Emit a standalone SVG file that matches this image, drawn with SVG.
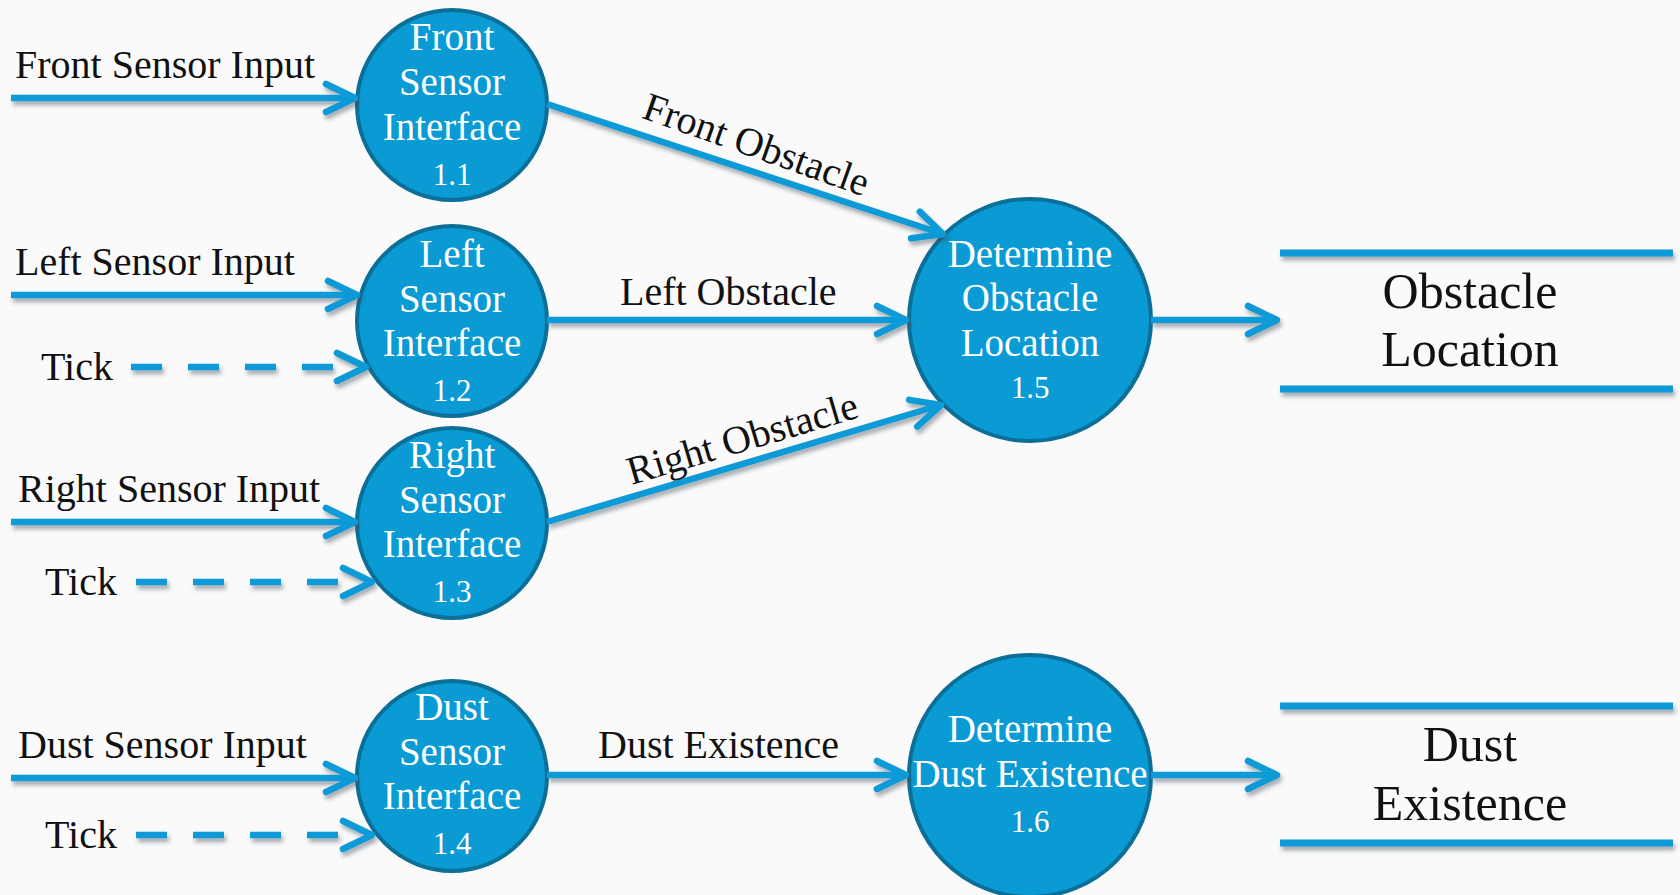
<svg xmlns="http://www.w3.org/2000/svg" width="1680" height="895" viewBox="0 0 1680 895">
  <style>
    .bg { fill: #fafafa; }
    .proc { fill: #0a9ad4; stroke: #0b6f98; stroke-width: 4; }
    .flow { fill: none; stroke: #0b9ad6; stroke-width: 6.5; stroke-linecap: butt; }
    .dash { stroke-dasharray: 31 26; }
    .store { fill: none; stroke: #0b9ad6; stroke-width: 7; }
    .lbl { font-family: "Liberation Serif", "Times New Roman", serif; font-size: 40px; fill: #111; }
    .pt { font-family: "Liberation Serif", "Times New Roman", serif; font-size: 39px; fill: #fff; text-anchor: middle; }
    .num { font-size: 31px; }
    .st { font-family: "Liberation Serif", "Times New Roman", serif; font-size: 50px; fill: #111; text-anchor: middle; }
  </style>
  <defs>
    <marker id="arrow" markerUnits="userSpaceOnUse" viewBox="-40 -20 46 40" refX="0" refY="0" markerWidth="46" markerHeight="40" orient="auto" overflow="visible">
      <path d="M-29,-14 L0,0 L-29,14" fill="none" stroke="#0b9ad6" stroke-width="6.5" stroke-linecap="round" stroke-linejoin="round"/>
    </marker>
    <filter id="shadow" filterUnits="userSpaceOnUse" x="0" y="0" width="1680" height="895">
      <feGaussianBlur in="SourceAlpha" stdDeviation="2.2"/>
      <feOffset dx="2" dy="4" result="blur"/>
      <feFlood flood-color="#3d4b57" flood-opacity="0.45"/>
      <feComposite in2="blur" operator="in"/>
      <feMerge>
        <feMergeNode/>
        <feMergeNode in="SourceGraphic"/>
      </feMerge>
    </filter>
  </defs>

  <rect class="bg" x="0" y="0" width="1680" height="895"/>

  <!-- processes -->
  <g id="p1_1">
    <circle class="proc" cx="452" cy="105" r="95"/>
    <text class="pt" x="452" y="50">Front</text>
    <text class="pt" x="452" y="95">Sensor</text>
    <text class="pt" x="452" y="140">Interface</text>
    <text class="pt num" x="452" y="185">1.1</text>
  </g>
  <g id="p1_2">
    <circle class="proc" cx="452" cy="321" r="95"/>
    <text class="pt" x="452" y="267">Left</text>
    <text class="pt" x="452" y="312">Sensor</text>
    <text class="pt" x="452" y="356">Interface</text>
    <text class="pt num" x="452" y="401">1.2</text>
  </g>
  <g id="p1_3">
    <circle class="proc" cx="452" cy="523" r="95"/>
    <text class="pt" x="452" y="468">Right</text>
    <text class="pt" x="452" y="513">Sensor</text>
    <text class="pt" x="452" y="557">Interface</text>
    <text class="pt num" x="452" y="602">1.3</text>
  </g>
  <g id="p1_4">
    <circle class="proc" cx="452" cy="776" r="95"/>
    <text class="pt" x="452" y="720">Dust</text>
    <text class="pt" x="452" y="765">Sensor</text>
    <text class="pt" x="452" y="809">Interface</text>
    <text class="pt num" x="452" y="854">1.4</text>
  </g>
  <g id="p1_5">
    <circle class="proc" cx="1030" cy="320" r="121"/>
    <text class="pt" x="1030" y="267">Determine</text>
    <text class="pt" x="1030" y="311">Obstacle</text>
    <text class="pt" x="1030" y="356">Location</text>
    <text class="pt num" x="1030" y="398">1.5</text>
  </g>
  <g id="p1_6">
    <circle class="proc" cx="1030" cy="776" r="121"/>
    <text class="pt" x="1030" y="742">Determine</text>
    <text class="pt" x="1030" y="787">Dust Existence</text>
    <text class="pt num" x="1030" y="832">1.6</text>
  </g>

  <!-- data stores -->
  <g id="store_obstacle">
    <g filter="url(#shadow)">
      <line class="store" x1="1280" y1="253" x2="1673" y2="253"/>
      <line class="store" x1="1280" y1="389" x2="1673" y2="389"/>
    </g>
    <text class="st" x="1470" y="308">Obstacle</text>
    <text class="st" x="1470" y="366">Location</text>
  </g>
  <g id="store_dust">
    <g filter="url(#shadow)">
      <line class="store" x1="1280" y1="706" x2="1673" y2="706"/>
      <line class="store" x1="1280" y1="843" x2="1673" y2="843"/>
    </g>
    <text class="st" x="1470" y="761">Dust</text>
    <text class="st" x="1470" y="820">Existence</text>
  </g>

  <!-- data flows -->
  <g id="connectors" filter="url(#shadow)">
    <line class="flow" x1="11" y1="98" x2="355" y2="98" marker-end="url(#arrow)"/>
    <line class="flow" x1="11" y1="295" x2="357" y2="295" marker-end="url(#arrow)"/>
    <line class="flow dash" x1="131" y1="367" x2="366" y2="367" marker-end="url(#arrow)"/>
    <line class="flow" x1="11" y1="522" x2="355" y2="522" marker-end="url(#arrow)"/>
    <line class="flow dash" x1="136" y1="582" x2="372" y2="582" marker-end="url(#arrow)"/>
    <line class="flow" x1="11" y1="778" x2="355" y2="778" marker-end="url(#arrow)"/>
    <line class="flow dash" x1="136" y1="835" x2="372" y2="835" marker-end="url(#arrow)"/>
    <line class="flow" x1="547" y1="104" x2="943" y2="234" marker-end="url(#arrow)"/>
    <line class="flow" x1="547" y1="320" x2="906" y2="320" marker-end="url(#arrow)"/>
    <line class="flow" x1="547" y1="522" x2="941" y2="405" marker-end="url(#arrow)"/>
    <line class="flow" x1="547" y1="775" x2="906" y2="775" marker-end="url(#arrow)"/>
    <line class="flow" x1="1151" y1="320" x2="1277" y2="320" marker-end="url(#arrow)"/>
    <line class="flow" x1="1151" y1="775" x2="1277" y2="775" marker-end="url(#arrow)"/>
  </g>

  <!-- flow labels -->
  <g id="flow-labels">
    <text class="lbl" x="15" y="78">Front Sensor Input</text>
    <text class="lbl" x="15" y="275">Left Sensor Input</text>
    <text class="lbl" x="41" y="380">Tick</text>
    <text class="lbl" x="18" y="502">Right Sensor Input</text>
    <text class="lbl" x="45" y="595">Tick</text>
    <text class="lbl" x="18" y="758">Dust Sensor Input</text>
    <text class="lbl" x="45" y="848">Tick</text>
    <text class="lbl" x="620" y="305">Left Obstacle</text>
    <text class="lbl" x="598" y="758">Dust Existence</text>
    <text class="lbl" text-anchor="middle" transform="translate(752,157) rotate(19.5)">Front Obstacle</text>
    <text class="lbl" text-anchor="middle" transform="translate(746,451) rotate(-16.5)">Right Obstacle</text>
  </g>
</svg>
